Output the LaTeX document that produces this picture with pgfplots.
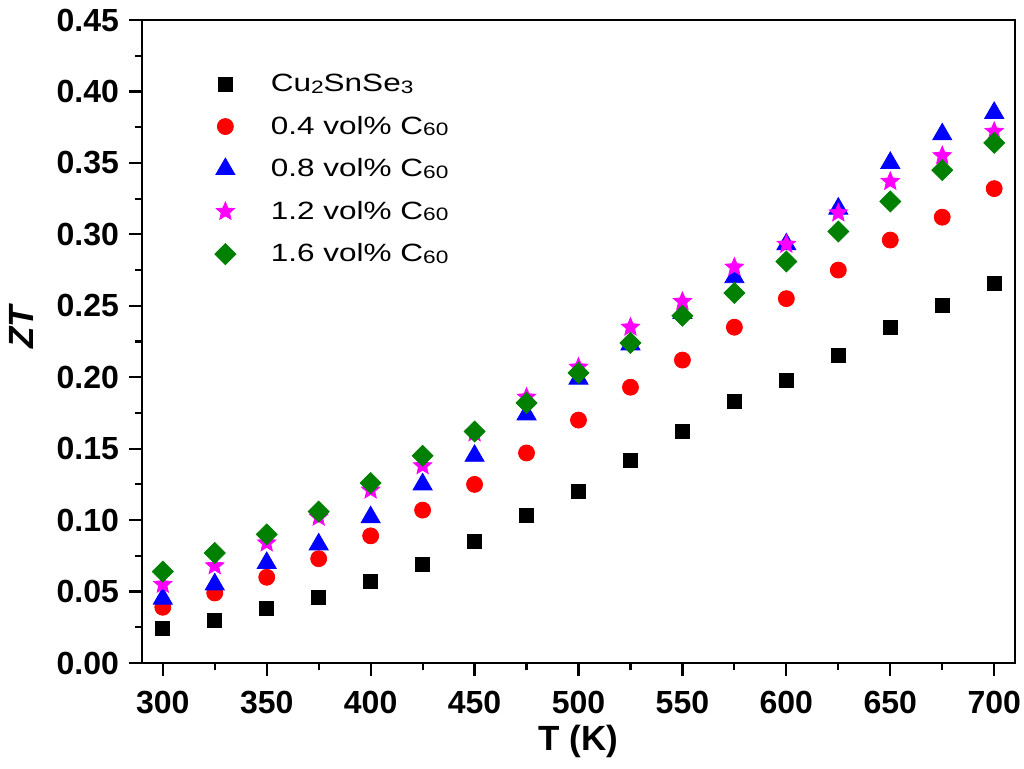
\documentclass[border=0pt]{standalone}
\usepackage{pgfplots}
\pgfplotsset{compat=1.18}
\usepackage{fontspec}
\setmainfont{Liberation Sans}
\usetikzlibrary{plotmarks}
\definecolor{cgreen}{RGB}{0,128,0}
\definecolor{cmag}{RGB}{255,0,255}
\definecolor{cred}{RGB}{255,0,0}
\definecolor{cblue}{RGB}{0,0,255}
\newcommand{\sub}[1]{\raisebox{-0.12ex}{\fontsize{9}{9}\selectfont #1}}
\newcommand{\leg}[1]{\scalebox{1.26}[1]{#1}}
\pgfdeclareplotmark{pstar}{%
  \pgfpathmoveto{\pgfpointpolar{90}{\pgfplotmarksize}}%
  \pgfpathlineto{\pgfpointpolar{126}{0.45\pgfplotmarksize}}%
  \pgfpathlineto{\pgfpointpolar{162}{\pgfplotmarksize}}%
  \pgfpathlineto{\pgfpointpolar{198}{0.45\pgfplotmarksize}}%
  \pgfpathlineto{\pgfpointpolar{234}{\pgfplotmarksize}}%
  \pgfpathlineto{\pgfpointpolar{270}{0.45\pgfplotmarksize}}%
  \pgfpathlineto{\pgfpointpolar{306}{\pgfplotmarksize}}%
  \pgfpathlineto{\pgfpointpolar{342}{0.45\pgfplotmarksize}}%
  \pgfpathlineto{\pgfpointpolar{18}{\pgfplotmarksize}}%
  \pgfpathlineto{\pgfpointpolar{54}{0.45\pgfplotmarksize}}%
  \pgfpathclose\pgfusepathqfillstroke}
\begin{document}
\begin{tikzpicture}
\path[use as bounding box] (-71pt,-52.5pt) rectangle (441pt,331.5pt);
\begin{axis}[
  at={(0,0)}, anchor=south west,
  scale only axis, width=436.5pt, height=321.5pt,
  xmin=290, xmax=710, ymin=0, ymax=0.45,
  xtick={300,350,...,700},
  ytick={0,0.05,...,0.45},
  minor x tick num=1, minor y tick num=1,
  tick align=outside, xtick pos=bottom, ytick pos=left,
  major tick length=6.5pt, minor tick length=3.5pt,
  axis line style={line width=1.2pt},
  every tick/.style={black, line width=1.1pt},
  /pgf/number format/assume math mode=true,
  tick label style={font=\fontsize{16}{17}\selectfont\bfseries},
  yticklabel style={/pgf/number format/fixed, /pgf/number format/fixed zerofill, /pgf/number format/precision=2, xshift=-1.5pt},
  xticklabel style={/pgf/number format/fixed, yshift=-4pt},
  scaled y ticks=false,
  xlabel={\fontsize{17.5}{18}\selectfont\bfseries T (K)},
  ylabel={\fontsize{17.5}{18}\selectfont\bfseries\itshape ZT},
  xlabel style={yshift=1pt},
  ylabel style={yshift=4.5pt, xshift=7pt},
  legend style={draw=none, fill=none, at={(axis cs:322,0.418)}, anchor=north west,
    font=\fontsize{12.5}{13}\selectfont, row sep=6.7pt,
    nodes={inner xsep=17.5pt}},
  legend cell align=left,
  legend image code/.code={\draw[#1] plot coordinates {(0.3cm,0cm)};},
]
\addplot[only marks, mark=square*, mark size=3.5pt, black] coordinates {
(300,0.024)(325,0.030)(350,0.038)(375,0.046)(400,0.057)(425,0.069)(450,0.085)(475,0.103)(500,0.120)(525,0.142)(550,0.162)(575,0.183)(600,0.198)(625,0.215)(650,0.235)(675,0.250)(700,0.266)};
\addlegendentry{\leg{Cu\sub{2}SnSe\sub{3}}}
\addplot[only marks, mark=*, mark size=4pt, cred] coordinates {
(300,0.039)(325,0.049)(350,0.060)(375,0.073)(400,0.089)(425,0.107)(450,0.125)(475,0.147)(500,0.170)(525,0.193)(550,0.212)(575,0.235)(600,0.255)(625,0.275)(650,0.296)(675,0.312)(700,0.332)};
\addlegendentry{\leg{0.4 vol\% C\sub{60}}}
\addplot[only marks, mark=triangle*, mark size=5.5pt, cblue] coordinates {
(300,0.045)(325,0.055)(350,0.070)(375,0.083)(400,0.102)(425,0.125)(450,0.145)(475,0.174)(500,0.199)(525,0.223)(550,0.245)(575,0.270)(600,0.293)(625,0.318)(650,0.350)(675,0.370)(700,0.385)};
\addlegendentry{\leg{0.8 vol\% C\sub{60}}}
\addplot[only marks, mark=pstar, mark size=4.8pt, cmag] coordinates {
(300,0.055)(325,0.068)(350,0.084)(375,0.102)(400,0.121)(425,0.138)(450,0.161)(475,0.186)(500,0.207)(525,0.235)(550,0.253)(575,0.277)(600,0.293)(625,0.315)(650,0.337)(675,0.355)(700,0.372)};
\addlegendentry{\leg{1.2 vol\% C\sub{60}}}
\addplot[only marks, mark=square*, mark size=3.7pt, mark options={rotate=45}, cgreen] coordinates {
(300,0.064)(325,0.077)(350,0.090)(375,0.106)(400,0.126)(425,0.145)(450,0.162)(475,0.182)(500,0.203)(525,0.224)(550,0.243)(575,0.259)(600,0.281)(625,0.302)(650,0.323)(675,0.345)(700,0.364)};
\addlegendentry{\leg{1.6 vol\% C\sub{60}}}
\end{axis}
\end{tikzpicture}
\end{document}
